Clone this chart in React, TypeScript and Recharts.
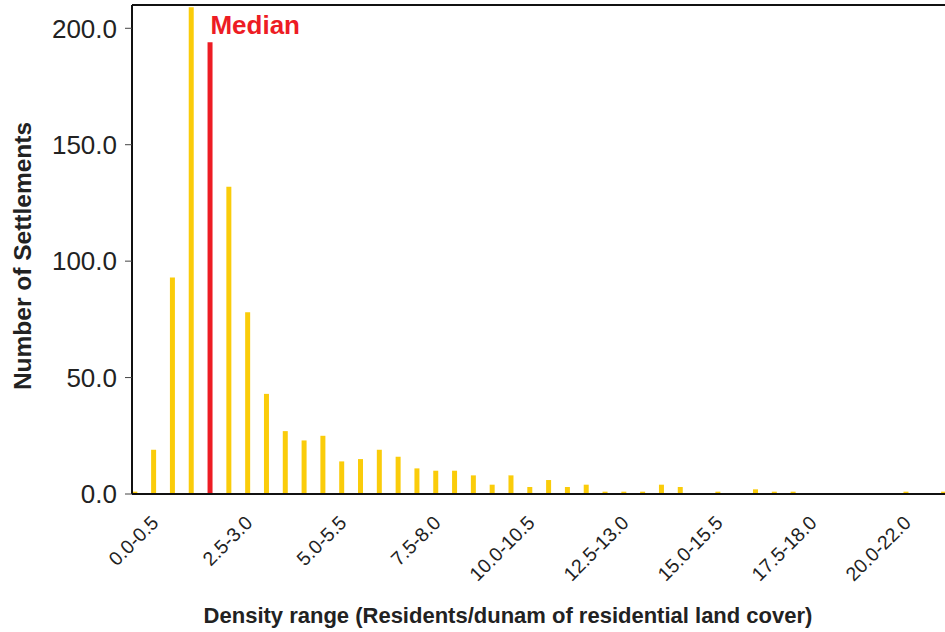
import { BarChart, Bar, XAxis, YAxis, Cell, ReferenceLine, Label } from 'recharts'

const BINS = [
  '0.0-0.5', '0.5-1.0', '1.0-1.5', '1.5-2.0', '2.0-2.5', '2.5-3.0', '3.0-3.5', '3.5-4.0',
  '4.0-4.5', '4.5-5.0', '5.0-5.5', '5.5-6.0', '6.0-6.5', '6.5-7.0', '7.0-7.5', '7.5-8.0',
  '8.0-8.5', '8.5-9.0', '9.0-9.5', '9.5-10.0', '10.0-10.5', '10.5-11.0', '11.0-11.5', '11.5-12.0',
  '12.0-12.5', '12.5-13.0', '13.0-13.5', '13.5-14.0', '14.0-14.5', '14.5-15.0', '15.0-15.5', '15.5-16.0',
  '16.0-16.5', '16.5-17.0', '17.0-17.5', '17.5-18.0', '18.0-18.5', '18.5-19.0', '19.0-19.5', '19.5-20.0',
  '20.0-22.0', '22.0-24.0', '24.0-26.0', '26.0-28.0',
]

const COUNTS = [
  1, 19, 93, 209, 194, 132, 78, 43, 27, 23, 25, 14, 15, 19, 16, 11,
  10, 10, 8, 4, 8, 3, 6, 3, 4, 1, 1, 1, 4, 3, 0, 1,
  0, 2, 1, 1, 0, 0, 0, 0, 0, 1, 0, 1,
]

const LABEL_TICKS = [0, 5, 10, 15, 20, 25, 30, 35, 40]
const Y_TICKS = [0, 50, 100, 150, 200]
const MEDIAN_INDEX = 4

const YELLOW = '#FACC0A'
const RED = '#ED1C24'
const FONT = "'Liberation Sans', Arial, sans-serif"

const data = BINS.map((bin, i) => ({ idx: i, bin, count: COUNTS[i] }))

function BinTick({ x, y, payload }: any) {
  const ax = x + 25
  const ay = y + 22
  return (
    <text
      x={ax}
      y={ay}
      transform={`rotate(-45 ${ax} ${ay})`}
      textAnchor="end"
      fontSize={19.5}
      fontFamily={FONT}
      fill="#222"
    >
      {BINS[payload.value]}
    </text>
  )
}

export default function App() {
  return (
    <div style={{ position: 'absolute', left: 0, top: 0, width: 945, height: 632, overflow: 'hidden', background: '#fff' }}>
      <BarChart width={945} height={632} data={data} margin={{ top: 5, right: 0, bottom: 108, left: 0 }}>
        <XAxis
          dataKey="idx"
          type="number"
          height={30}
          domain={[-0.144, 43.08]}
          allowDataOverflow
          ticks={LABEL_TICKS}
          interval={0}
          tickLine={false}
          axisLine={{ stroke: '#111', strokeWidth: 2 }}
          tick={<BinTick />}
        >
          <Label
            content={() => (
              <text x={508} y={623} textAnchor="middle" fontSize={22} fontWeight="bold" fontFamily={FONT} fill="#222">
                Density range (Residents/dunam of residential land cover)
              </text>
            )}
          />
        </XAxis>
        <YAxis
          type="number"
          domain={[0, 210]}
          ticks={Y_TICKS}
          width={132}
          tickFormatter={(v: number) => v.toFixed(1)}
          tick={{ fontSize: 26, fontFamily: FONT, fill: '#222' }}
          tickSize={7}
          tickMargin={8}
          tickLine={{ stroke: '#444' }}
          axisLine={{ stroke: '#111', strokeWidth: 2 }}
        >
          <Label
            content={() => (
              <text
                transform="translate(31 256) rotate(-90)"
                textAnchor="middle"
                fontSize={24.5}
                fontWeight="bold"
                fontFamily={FONT}
                fill="#222"
              >
                Number of Settlements
              </text>
            )}
          />
        </YAxis>
        <ReferenceLine y={210} stroke="#111" strokeWidth={2} />
        <Bar dataKey="count" barSize={5} fill={YELLOW} isAnimationActive={false}>
          {data.map((d) => (
            <Cell key={d.idx} fill={d.idx === MEDIAN_INDEX ? RED : YELLOW} />
          ))}
        </Bar>
        <ReferenceLine
          x={MEDIAN_INDEX}
          stroke="none"
          label={(props: any) => (
            <text
              x={props.viewBox.x + 0.5}
              y={props.viewBox.y + 29}
              fontSize={26}
              fontWeight="bold"
              fontFamily={FONT}
              fill={RED}
            >
              Median
            </text>
          )}
        />
      </BarChart>
    </div>
  )
}
